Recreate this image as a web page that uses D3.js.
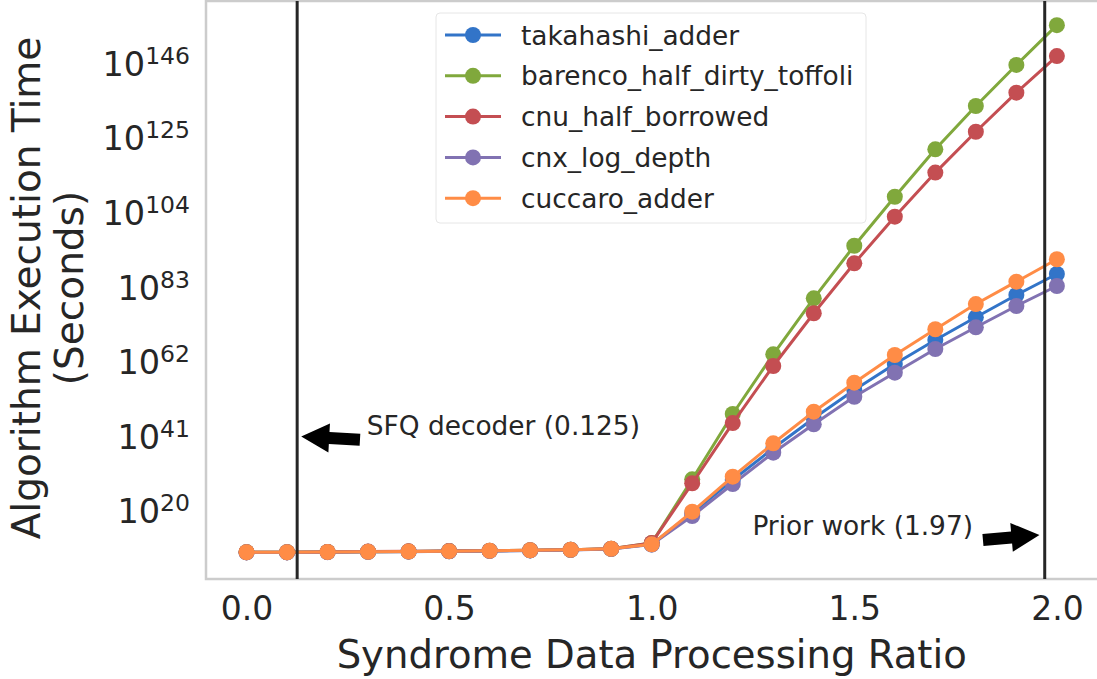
<!DOCTYPE html>
<html>
<head>
<meta charset="utf-8">
<script src="https://cdn.jsdelivr.net/npm/d3@7"></script>
<style>
  html, body { margin: 0; padding: 0; background: #fff; }
  svg { display: block; font-family: "DejaVu Sans", sans-serif; }
</style>
</head>
<body>
<svg id="chart" width="1097" height="679"></svg>
<script>
// Syndrome data processing ratio (x positions of every sample)
const ratios = [0.0, 0.1, 0.2, 0.3, 0.4, 0.5, 0.6, 0.7, 0.8, 0.9, 1.0,
                1.1, 1.2, 1.3, 1.4, 1.5, 1.6, 1.7, 1.8, 1.9, 2.0];

// Algorithm execution time in seconds, one array per benchmark circuit
const takahashiAdder = [2.0e8, 2.0e8, 2.4e8, 2.9e8, 3.3e8, 4.1e8, 5.2e8, 7.2e8, 1.0e9, 1.9e9, 3.5e10,
                        2.4e19, 4.7e28, 3.9e37, 1.1e46, 1.0e54, 2.1e61, 1.2e68, 2.95e74, 5.5e80, 4.5e86];
const barencoHalfDirtyToffoli = [2.2e8, 2.2e8, 2.6e8, 3.2e8, 3.7e8, 4.5e8, 5.8e8, 8.0e8, 1.1e9, 2.1e9, 8.0e10,
                        7.4e28, 1.78e47, 1.12e64, 6.3e79, 3.98e94, 2.51e108, 5.75e121, 8.9e133, 3.16e145, 5.0e156];
const cnuHalfBorrowed = [2.3e8, 2.3e8, 2.7e8, 3.3e8, 3.8e8, 4.7e8, 6.0e8, 8.3e8, 1.15e9, 2.2e9, 9.0e10,
                        5.5e27, 5.0e44, 5.75e60, 3.98e75, 4.68e89, 6.3e102, 1.58e115, 5.0e126, 5.0e137, 1.0e148];
const cnxLogDepth = [1.9e8, 1.9e8, 2.3e8, 2.8e8, 3.2e8, 3.9e8, 5.0e8, 7.0e8, 9.6e8, 1.8e9, 3.3e10,
                        3.4e18, 3.5e27, 2.24e36, 2.24e44, 1.26e52, 7.4e58, 3.47e65, 4.5e71, 4.5e77, 1.9e83];
const cuccaroAdder = [2.1e8, 2.1e8, 2.5e8, 3.0e8, 3.5e8, 4.3e8, 5.5e8, 7.6e8, 1.05e9, 2.0e9, 3.7e10,
                        5.5e19, 3.98e29, 1.0e39, 7.9e47, 1.15e56, 7.1e63, 1.26e71, 1.58e78, 3.16e84, 6.3e90];

const seriesNames = ["takahashi_adder", "barenco_half_dirty_toffoli", "cnu_half_borrowed",
                     "cnx_log_depth", "cuccaro_adder"];
const seriesValues = [takahashiAdder, barencoHalfDirtyToffoli, cnuHalfBorrowed, cnxLogDepth, cuccaroAdder];
const seriesColors = ["#3274c8", "#80a83c", "#c44e52", "#8172b2", "#ff8c46"];

// Axis ticks
const xTicks = [0.0, 0.5, 1.0, 1.5, 2.0];
const yTickExponents = [20, 41, 62, 83, 104, 125, 146];

// Reference decoders marked with vertical lines
const markerRatios = [0.125, 1.97];
const markerLabels = ["SFQ decoder (0.125)", "Prior work (1.97)"];

const svg = d3.select("#chart");
const plot = { left: 206, right: 1097.4, top: 1, bottom: 579 };
const textColor = "#262626";

const x = d3.scaleLinear().domain([-0.1, 2.1]).range([plot.left, plot.right]);
const y = d3.scaleLog().domain([Math.pow(10, 0.8), Math.pow(10, 163.5)]).range([plot.bottom, plot.top]);

// Frame
svg.append("rect")
  .attr("x", plot.left).attr("y", plot.top)
  .attr("width", plot.right - plot.left + 5).attr("height", plot.bottom - plot.top)
  .attr("fill", "#fff").attr("stroke", "#cccccc").attr("stroke-width", 2.5);

// X axis
const xAxis = svg.append("g")
  .attr("transform", `translate(0,${plot.bottom})`)
  .call(d3.axisBottom(x).tickValues(xTicks).tickFormat(d3.format(".1f")).tickSize(0).tickPadding(18));
xAxis.select(".domain").remove();
xAxis.selectAll("text")
  .attr("fill", textColor).attr("font-size", 33).attr("font-family", "DejaVu Sans");

// Y axis with 10^n labels
const yAxis = svg.append("g")
  .attr("transform", `translate(${plot.left},0)`)
  .call(d3.axisLeft(y).tickValues(yTickExponents.map(e => Math.pow(10, e))).tickFormat("").tickSize(0).tickPadding(16));
yAxis.select(".domain").remove();
yAxis.selectAll(".tick text")
  .attr("fill", textColor).attr("font-size", 33.5).attr("font-family", "DejaVu Sans")
  .attr("dy", "0.36em")
  .each(function(d, i) {
    const t = d3.select(this);
    t.append("tspan").text("10");
    t.append("tspan").attr("dy", -12).attr("font-size", 23.5).text(yTickExponents[i]);
  });

// Axis titles
svg.append("text")
  .attr("x", (plot.left + plot.right) / 2).attr("y", 668)
  .attr("text-anchor", "middle").attr("fill", textColor).attr("font-size", 38.6)
  .text("Syndrome Data Processing Ratio");

const yTitle = svg.append("text")
  .attr("transform", `translate(40,${(plot.top + plot.bottom) / 2 - 2}) rotate(-90)`)
  .attr("text-anchor", "middle").attr("fill", textColor).attr("font-size", 39);
yTitle.append("tspan").attr("x", 0).attr("y", 0).text("Algorithm Execution Time");
yTitle.append("tspan").attr("x", 0).attr("y", 43).text("(Seconds)");

// Series: line then markers, drawn in legend order
const line = d3.line().x((d, i) => x(ratios[i])).y(d => y(d));
seriesValues.forEach((vals, s) => {
  const g = svg.append("g");
  g.append("path").datum(vals)
    .attr("d", line).attr("fill", "none")
    .attr("stroke", seriesColors[s]).attr("stroke-width", 3).attr("stroke-linejoin", "round");
  g.selectAll("circle").data(vals).join("circle")
    .attr("cx", (d, i) => x(ratios[i])).attr("cy", d => y(d)).attr("r", 8)
    .attr("fill", seriesColors[s]);
});

// Vertical reference lines
svg.selectAll("line.marker").data(markerRatios).join("line")
  .attr("class", "marker")
  .attr("x1", d => x(d)).attr("x2", d => x(d))
  .attr("y1", plot.top).attr("y2", plot.bottom)
  .attr("stroke", textColor).attr("stroke-width", 3);

// Annotation arrows (tail -> tip), given in data coordinates
function arrow(x0, y0, x1, y1) {
  const dx = x1 - x0, dy = y1 - y0, L = Math.hypot(dx, dy);
  const ux = dx / L, uy = dy / L, nx = -uy, ny = ux;
  const hw = 14.5, sw = 6, hl = 28;
  const bx = x1 - ux * hl, by = y1 - uy * hl;
  const pts = [
    [x0 + nx * sw, y0 + ny * sw], [bx + nx * sw, by + ny * sw], [bx + nx * hw, by + ny * hw],
    [x1, y1],
    [bx - nx * hw, by - ny * hw], [bx - nx * sw, by - ny * sw], [x0 - nx * sw, y0 - ny * sw]
  ];
  svg.append("polygon").attr("points", pts.map(p => p.join(",")).join(" ")).attr("fill", "#000");
}
arrow(x(0.28), y(1e40), x(0.135), y(Math.pow(10, 40.9)));
arrow(x(1.8175), y(Math.pow(10, 11.8)), x(1.957), y(Math.pow(10, 13.2)));

svg.append("text")
  .attr("x", x(0.297)).attr("y", y(Math.pow(10, 41.3)))
  .attr("fill", textColor).attr("font-size", 26.4).text(markerLabels[0]);
svg.append("text")
  .attr("x", x(1.793)).attr("y", y(Math.pow(10, 13.2)))
  .attr("text-anchor", "end").attr("fill", textColor).attr("font-size", 26.4).text(markerLabels[1]);

// Legend
const legend = svg.append("g");
legend.append("rect")
  .attr("x", 436).attr("y", 13).attr("width", 430).attr("height", 210).attr("rx", 4)
  .attr("fill", "#fff").attr("fill-opacity", 0.8).attr("stroke", "#e6e6e6").attr("stroke-width", 1);
seriesNames.forEach((name, i) => {
  const cy = 35 + i * 40.8;
  legend.append("line").attr("x1", 445).attr("x2", 501).attr("y1", cy).attr("y2", cy)
    .attr("stroke", seriesColors[i]).attr("stroke-width", 3);
  legend.append("circle").attr("cx", 473).attr("cy", cy).attr("r", 8).attr("fill", seriesColors[i]);
  legend.append("text").attr("x", 521).attr("y", cy + 9.5)
    .attr("fill", textColor).attr("font-size", 26.4).text(name);
});
</script>
</body>
</html>
